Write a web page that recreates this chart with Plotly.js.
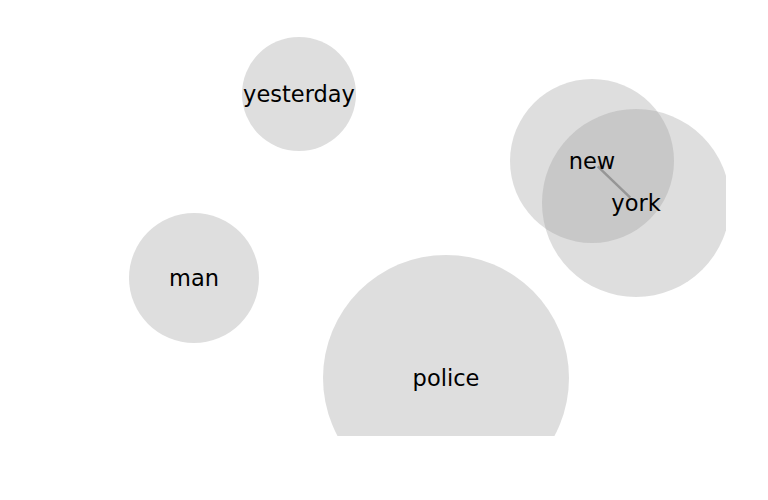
<!DOCTYPE html>
<html>
<head>
<meta charset="utf-8">
<script src="https://cdn.plot.ly/plotly-3.0.1.min.js"></script>
<style>html,body{margin:0;padding:0;background:#fff;}#chart{width:768px;height:500px;}</style>
</head>
<body>
<div id="chart"></div>
<script>
// Words and their positions/sizes
const words = ["yesterday", "man", "police", "new", "york"];
const xs = [299, 194, 446, 592, 636];
const ys = [94, 278, 378, 161, 203];
const sizes = [114, 130, 246, 164, 188];
// Link between words
const linkFrom = "new";
const linkTo = "york";

const iA = words.indexOf(linkFrom), iB = words.indexOf(linkTo);
const shrink = 0.13;
const lx = [xs[iA] + (xs[iB]-xs[iA])*shrink, xs[iB] - (xs[iB]-xs[iA])*shrink];
const ly = [ys[iA] + (ys[iB]-ys[iA])*shrink, ys[iB] - (ys[iB]-ys[iA])*shrink];

const traces = [
  {
    x: xs, y: ys, mode: "markers", type: "scatter",
    marker: {size: sizes, color: "rgb(156,156,156)", opacity: 0.333, line: {width: 0}},
    hoverinfo: "skip", showlegend: false
  },
  {
    x: lx, y: ly, mode: "lines", type: "scatter",
    line: {color: "rgb(150,150,150)", width: 2.5},
    hoverinfo: "skip", showlegend: false
  },
  {
    x: xs, y: ys.map(v => v + 2), mode: "text", type: "scatter", text: words,
    textposition: "middle center",
    textfont: {family: "DejaVu Sans", size: 22.5, color: "#000"},
    hoverinfo: "skip", showlegend: false
  }
];

const layout = {
  width: 768, height: 500,
  margin: {l: 0, r: 42, t: 0, b: 64, pad: 0},
  paper_bgcolor: "#fff", plot_bgcolor: "#fff",
  xaxis: {range: [0, 726], visible: false, fixedrange: true},
  yaxis: {range: [436, 0], visible: false, fixedrange: true},
  hovermode: false, showlegend: false
};

Plotly.newPlot("chart", traces, layout, {staticPlot: true, displayModeBar: false});
</script>
</body>
</html>
